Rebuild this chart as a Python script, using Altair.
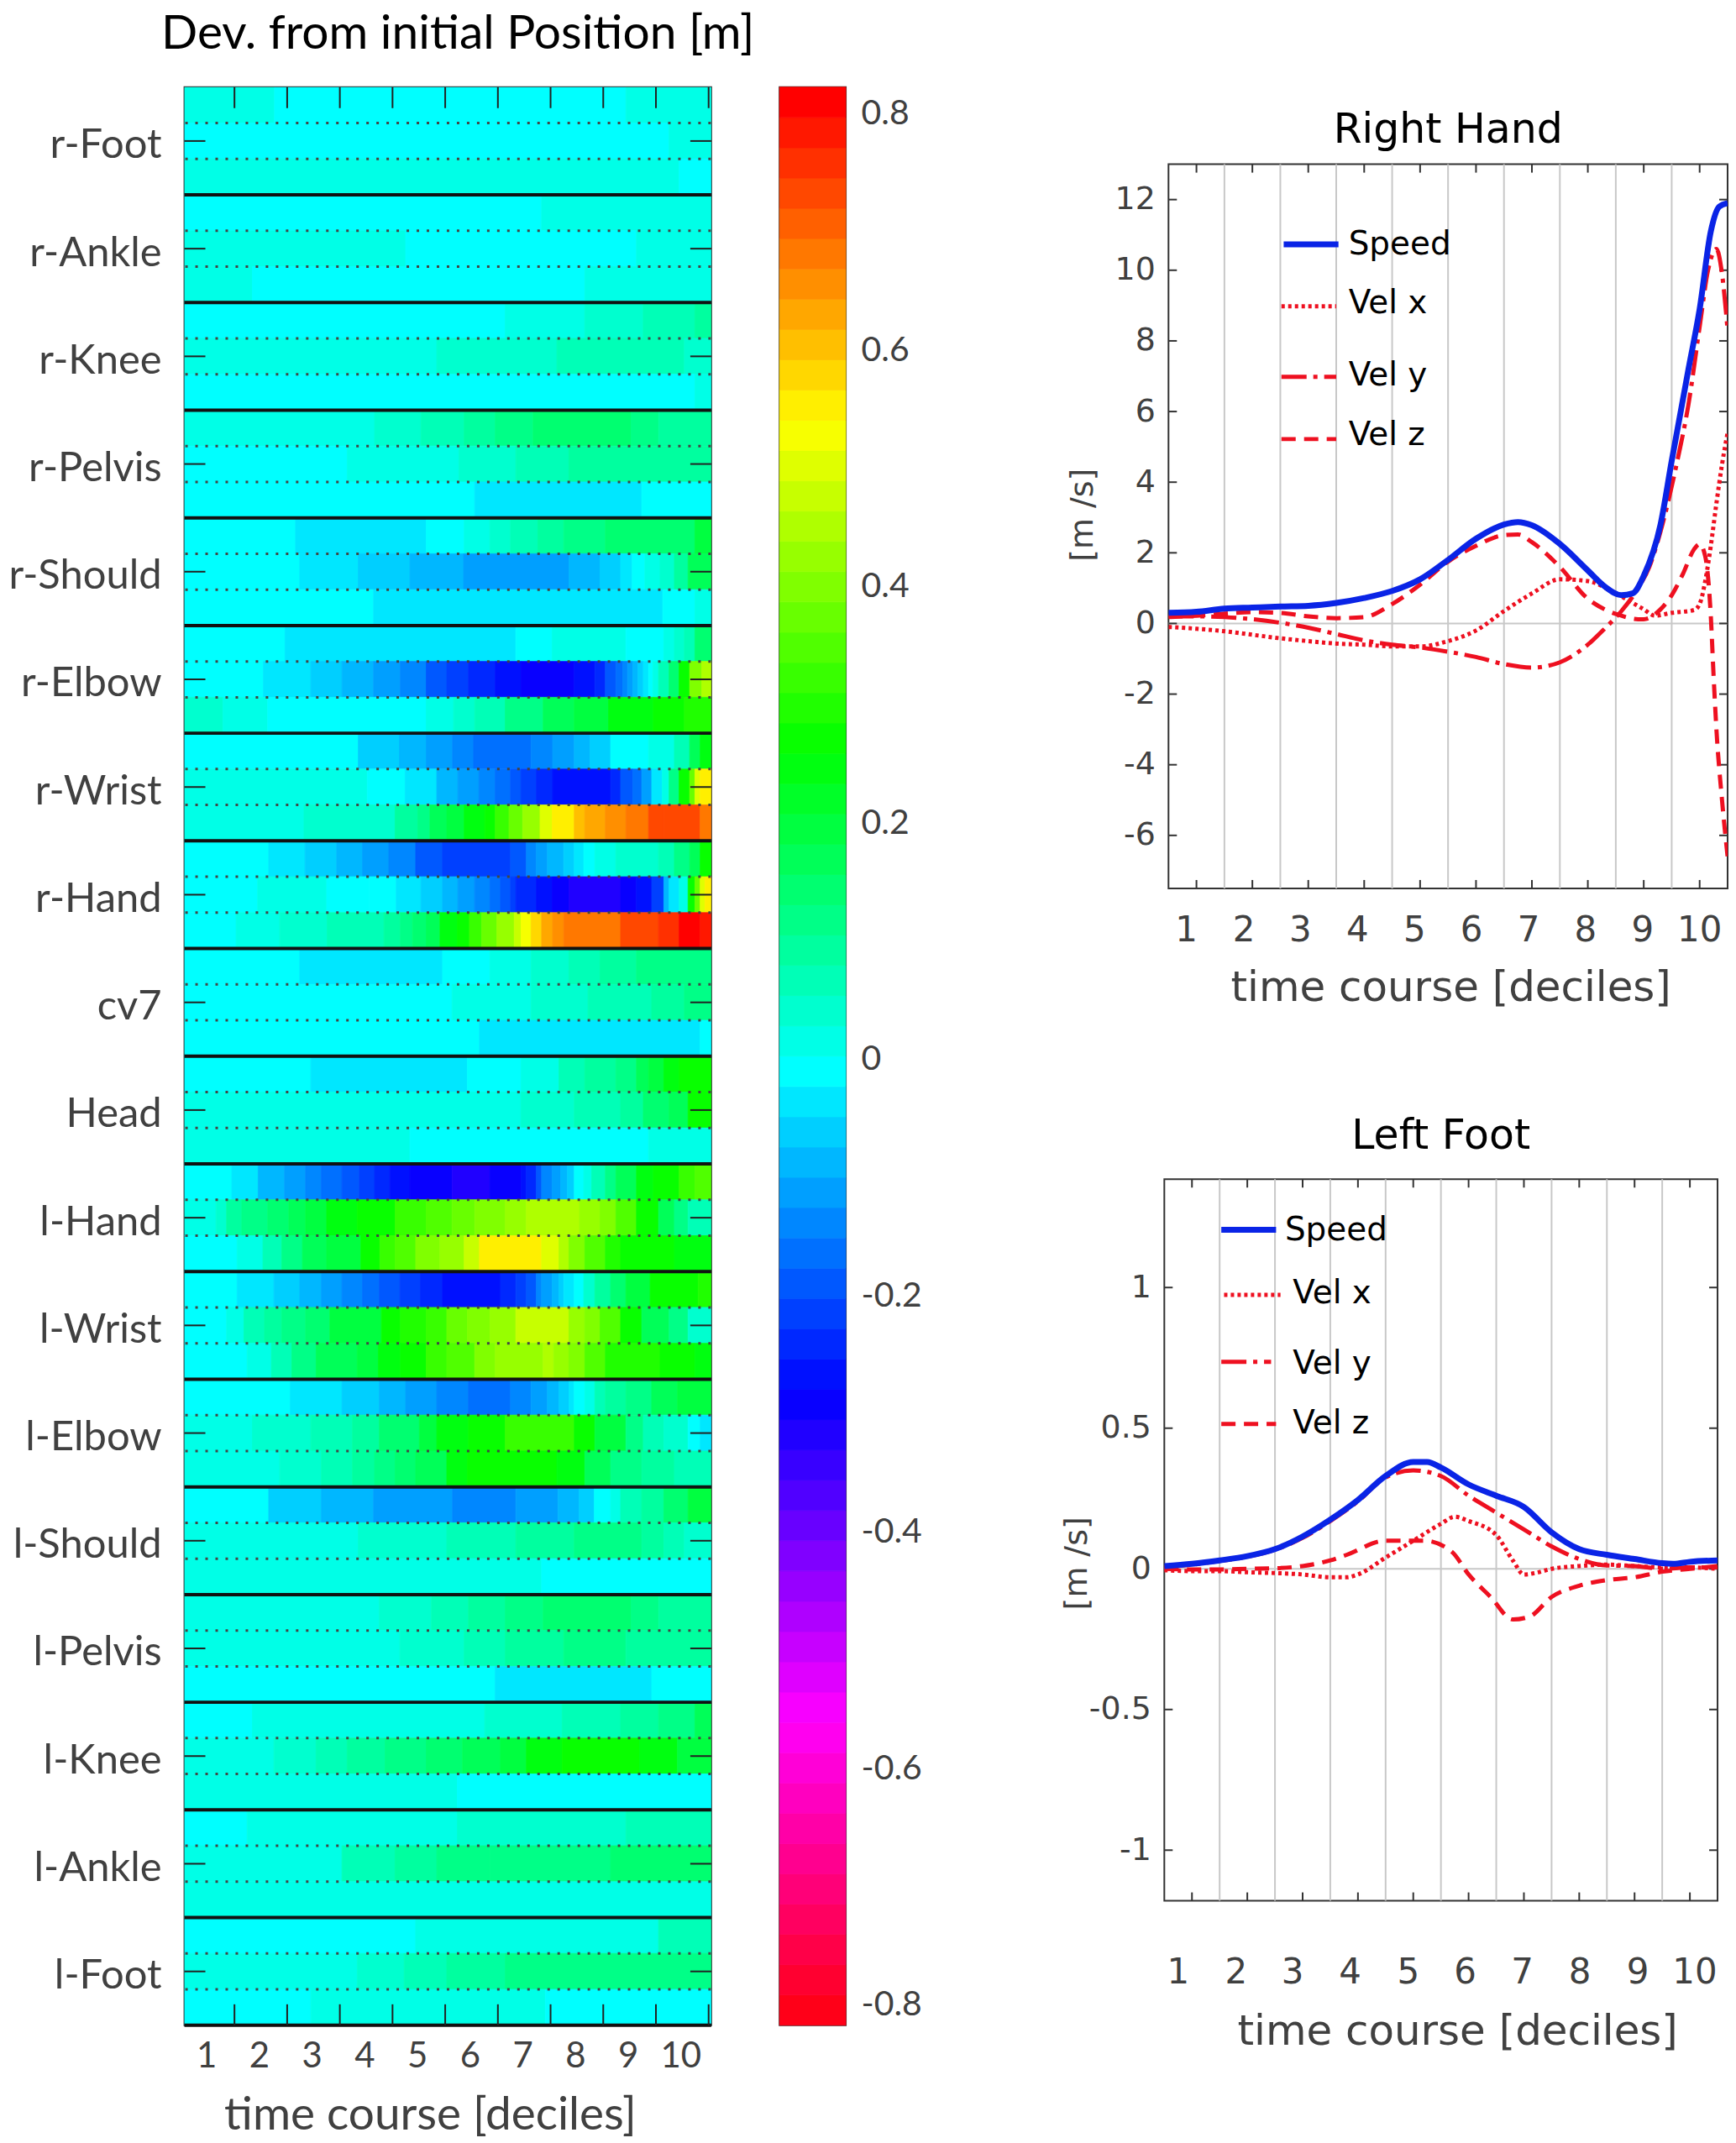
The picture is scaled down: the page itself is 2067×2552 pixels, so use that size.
import colorsys
import altair as alt
import pandas as pd

# ---------- heat map: each marker has 3 sub-rows, each a list of (segment end in deciles, deviation in m)
r_foot = [[(1.76,.04),(8.43,-.01),(10.05,.04)],
          [(9.25,-.01),(10.05,.04)],
          [(9.44,.04),(10.05,-.01)]]
r_ankle = [[(6.83,-.01),(10.05,.04)],
           [(4.25,.04),(8.63,-.01),(10.05,.04)],
           [(1.34,.04),(7.65,-.01),(10.05,.04)]]
r_knee = [[(6.14,-.01),(7.65,.04),(8.76,.065),(9.74,.09),(10.05,.12)],
          [(4.84,.04),(7.12,.065),(9.54,.1),(10.05,.065)],
          [(9.74,-.01),(10.05,.04)]]
r_pelvis = [[(3.66,.04),(4.54,.065),(5.36,.09),(5.95,.115),(6.67,.14),(8.53,.165),(9.05,.14),(10.05,.115)],
            [(3.14,-.01),(5.26,.04),(6.34,.065),(7.35,.09),(10.05,.115)],
            [(5.56,-.01),(8.73,-.04),(10.05,-.01)]]
r_should = [[(2.16,-.01),(4.64,-.04),(5.36,-.01),(5.85,.04),(6.24,.065),(6.76,.09),(7.25,.115),(8.04,.14),(9.74,.165),(10.05,.22)],
            [(2.24,-.01),(3.35,-.04),(4.33,-.065),(5.35,-.09),(7.35,-.115),(7.94,-.09),(8.33,-.065),(8.55,-.04),(8.79,-.01),(9.08,.04),(9.35,.065),(9.61,.115),(10.05,.2)],
            [(3.64,-.01),(9.13,-.04),(9.74,-.01),(10.05,.04)]]
r_elbow = [[(1.96,-.01),(6.34,-.04),(7.03,-.01),(8.43,.04),(9.15,-.01),(9.35,.04),(9.54,.065),(9.74,.1),(10.05,.16)],
           [(1.55,-.01),(2.45,-.04),(3.04,-.065),(3.64,-.09),(4.15,-.115),(4.64,-.14),(5.03,-.19),(5.44,-.22),(5.95,-.245),(6.44,-.27),(7.45,-.295),(7.84,-.27),(8.04,-.245),(8.24,-.19),(8.37,-.165),(8.46,-.14),(8.56,-.115),(8.66,-.09),(8.76,-.065),(8.86,-.04),(8.94,-.01),(9.05,.04),(9.25,.09),(9.44,.165),(9.64,.27),(9.87,.4),(10.05,.45)],
           [(.78,.065),(1.63,.04),(4.64,-.01),(5.16,.04),(5.56,.065),(6.14,.09),(6.86,.14),(7.45,.19),(8.1,.22),(8.95,.245),(9.54,.27),(10.05,.3)]]
r_wrist = [[(3.35,-.01),(4.13,-.065),(4.64,-.09),(5.14,-.115),(5.54,-.14),(6.63,-.165),(7.04,-.14),(7.45,-.115),(7.75,-.09),(8.14,-.065),(8.86,-.01),(9.35,.04),(9.64,.09),(9.84,.2),(10.05,.25)],
           [(3.52,.04),(4.24,-.01),(4.84,-.04),(5.24,-.09),(5.64,-.115),(5.95,-.14),(6.24,-.165),(6.44,-.19),(6.73,-.22),(7.04,-.245),(8.14,-.27),(8.33,-.245),(8.56,-.19),(8.73,-.165),(8.92,-.115),(9.12,-.04),(9.25,.04),(9.44,.14),(9.64,.27),(9.74,.38),(9.84,.5),(10.05,.55)],
           [(2.32,.04),(4.05,.065),(4.48,.115),(4.71,.14),(5.03,.19),(5.36,.22),(5.75,.25),(5.95,.28),(6.21,.33),(6.47,.38),(6.8,.43),(7.03,.49),(7.45,.55),(7.65,.6),(8.04,.63),(8.43,.66),(8.86,.69),(9.15,.72),(9.84,.74),(10.05,.69)]]
r_hand = [[(1.65,-.01),(2.34,-.04),(2.94,-.065),(3.43,-.09),(3.93,-.115),(4.44,-.14),(4.95,-.19),(6.24,-.22),(6.54,-.19),(6.73,-.14),(6.94,-.115),(7.25,-.09),(7.45,-.065),(7.63,-.04),(7.84,-.01),(8.24,.04),(9.05,.065),(9.35,.09),(9.64,.14),(9.84,.2),(10.05,.27)],
          [(1.44,-.01),(2.75,.04),(3.56,-.01),(4.07,-.01),(4.54,-.04),(4.95,-.065),(5.24,-.09),(5.56,-.115),(5.85,-.14),(6.05,-.165),(6.24,-.19),(6.34,-.22),(6.73,-.245),(7.03,-.27),(7.35,-.295),(8.33,-.32),(8.63,-.295),(8.92,-.27),(9.15,-.22),(9.25,-.09),(9.44,-.04),(9.61,.04),(9.74,.27),(9.84,.38),(9.93,.5),(10.05,.55)],
          [(1.03,-.01),(1.86,.04),(2.76,.065),(3.84,.09),(4.15,.115),(4.38,.14),(4.64,.17),(4.9,.2),(5.23,.245),(5.46,.27),(5.69,.31),(5.98,.36),(6.31,.42),(6.44,.47),(6.63,.52),(6.83,.58),(7.04,.63),(7.25,.66),(8.33,.69),(9.05,.72),(9.44,.76),(9.84,.82),(10.05,.78)]]
cv7 = [[(2.24,-.01),(4.95,-.04),(5.85,-.01),(6.63,.04),(7.35,.065),(7.94,.09),(8.63,.115),(10.05,.14)],
       [(5.13,-.01),(6.63,.04),(7.71,.065),(8.92,.09),(9.54,.115),(10.05,.14)],
       [(5.65,-.01),(9.84,-.04),(10.05,-.01)]]
head = [[(2.45,-.01),(5.42,-.04),(6.44,-.01),(7.16,.04),(7.65,.09),(8.24,.115),(8.63,.14),(8.86,.19),(9.15,.22),(9.44,.25),(10.05,.28)],
        [(6.44,.04),(7.45,.065),(8.33,.09),(8.76,.115),(9.25,.165),(9.61,.2),(10.05,.27)],
        [(4.33,.04),(8.86,-.01),(10.05,.04)]]
l_hand = [[(.95,-.01),(1.45,-.04),(1.95,-.09),(2.35,-.115),(2.65,-.14),(3.04,-.165),(3.37,-.19),(3.66,-.22),(3.95,-.245),(4.33,-.27),(5.13,-.295),(5.85,-.33),(6.44,-.295),(6.54,-.27),(6.73,-.245),(6.83,-.19),(7.03,-.14),(7.19,-.115),(7.32,-.09),(7.45,-.065),(7.63,-.01),(7.78,.04),(8.04,.09),(8.24,.14),(8.63,.19),(8.95,.245),(9.44,.27),(9.74,.31),(10.05,.34)],
          [(.65,.04),(.85,.065),(1.14,.115),(1.63,.14),(2.03,.17),(2.35,.19),(2.75,.22),(3.33,.245),(4.05,.27),(4.64,.31),(5.13,.335),(5.56,.36),(6.14,.385),(6.54,.42),(7.55,.45),(7.94,.42),(8.24,.385),(8.63,.335),(9.05,.27),(9.35,.19),(9.61,.14),(10.05,.09)],
          [(1.05,-.01),(1.54,.04),(1.9,.09),(2.29,.14),(2.75,.19),(3.4,.22),(3.76,.27),(4.05,.31),(4.44,.335),(4.9,.385),(5.36,.42),(5.65,.47),(6.83,.545),(7.16,.5),(7.35,.45),(7.65,.385),(8.04,.335),(8.33,.3),(9.35,.27),(10.05,.245)]]
l_wrist = [[(1.05,-.01),(1.75,-.04),(2.24,-.065),(2.65,-.09),(3.04,-.115),(3.43,-.14),(3.75,-.165),(4.14,-.19),(4.53,-.22),(4.95,-.245),(6.05,-.27),(6.34,-.245),(6.54,-.22),(6.73,-.19),(6.83,-.14),(7.03,-.115),(7.16,-.09),(7.25,-.065),(7.45,-.04),(7.63,-.01),(7.84,.065),(8.14,.115),(8.43,.165),(8.89,.22),(9.8,.27),(10.05,.3)],
           [(.85,-.01),(1.18,.04),(1.57,.09),(1.9,.115),(2.35,.14),(2.81,.17),(3.79,.22),(4.15,.27),(4.64,.3),(5.03,.33),(5.42,.36),(5.85,.385),(6.34,.42),(7.35,.47),(7.65,.42),(7.94,.385),(8.33,.335),(8.73,.27),(9.25,.19),(9.61,.14),(10.05,.07)],
           [(1.24,-.01),(1.7,.04),(2.09,.09),(2.55,.14),(3.33,.19),(3.73,.22),(4.15,.245),(4.64,.27),(5.03,.31),(5.56,.335),(5.95,.385),(6.86,.42),(7.06,.45),(7.35,.42),(7.65,.385),(8.04,.335),(9.08,.3),(9.74,.27),(10.05,.245)]]
l_elbow = [[(2.06,-.01),(3.04,-.04),(3.75,-.065),(4.25,-.09),(4.84,-.115),(5.44,-.14),(6.24,-.165),(6.63,-.14),(6.94,-.115),(7.16,-.09),(7.35,-.065),(7.45,-.04),(7.65,-.01),(7.84,.04),(8.04,.09),(8.43,.115),(8.92,.14),(9.41,.19),(10.05,.22)],
           [(1.34,.04),(2.45,.065),(3.24,.09),(3.75,.115),(4.51,.165),(4.84,.22),(5.44,.245),(6.14,.27),(7.45,.31),(7.84,.27),(8.43,.22),(8.76,.14),(9.15,.09),(9.61,.065),(9.84,-.01),(10.05,-.05)],
           [(1.86,.04),(2.65,.065),(3.24,.09),(3.66,.115),(4.05,.14),(4.44,.17),(5.03,.19),(5.42,.245),(7.12,.27),(7.65,.245),(8.14,.19),(8.73,.14),(9.35,.115),(10.05,.09)]]
l_should = [[(1.65,-.01),(2.65,-.065),(3.64,-.09),(5.14,-.115),(6.34,-.14),(7.14,-.115),(7.54,-.09),(7.83,-.065),(8.14,-.01),(8.33,.04),(8.73,.09),(9.15,.115),(9.61,.165),(10.05,.22)],
            [(3.35,.04),(5.03,.065),(6.34,.09),(7.45,.115),(8.73,.14),(9.15,.115),(9.54,.09),(10.05,.065)],
            [(6.83,.04),(10.05,-.01)]]
l_pelvis = [[(3.75,.04),(4.74,.065),(5.44,.09),(6.14,.115),(6.86,.14),(8.53,.165),(9.05,.14),(10.05,.115)],
            [(4.14,.04),(5.36,.065),(6.14,.09),(7.25,.115),(8.43,.14),(10.05,.115)],
            [(5.95,-.01),(8.92,-.04),(10.05,-.01)]]
l_knee = [[(1.34,-.01),(5.75,.04),(7.22,.065),(8.33,.09),(9.05,.115),(9.74,.14),(10.05,.19)],
          [(1.75,.04),(2.55,.065),(3.14,.09),(3.86,.115),(4.64,.14),(5.33,.165),(6.05,.19),(6.54,.22),(7.22,.245),(8.69,.27),(9.41,.245),(10.05,.22)],
          [(5.23,.04),(10.05,-.01)]]
l_ankle = [[(1.24,-.01),(5.23,.04),(8.43,.065),(10.05,.09)],
           [(3.04,.04),(4.05,.09),(4.84,.115),(5.85,.13),(8.14,.14),(10.05,.165)],
           [(10.05,.035)]]
l_foot = [[(4.44,-.01),(9.05,.04),(10.05,.09)],
          [(3.33,.04),(4.22,.065),(5.03,.09),(6.14,.115),(10.05,.14)],
          [(2.45,-.01),(6.9,.04),(10.05,-.01)]]

marker_names = ["r-Foot","r-Ankle","r-Knee","r-Pelvis","r-Should","r-Elbow","r-Wrist","r-Hand","cv7",
                "Head","l-Hand","l-Wrist","l-Elbow","l-Should","l-Pelvis","l-Knee","l-Ankle","l-Foot"]
marker_rows = [r_foot,r_ankle,r_knee,r_pelvis,r_should,r_elbow,r_wrist,r_hand,cv7,
               head,l_hand,l_wrist,l_elbow,l_should,l_pelvis,l_knee,l_ankle,l_foot]
deciles = [1,2,3,4,5,6,7,8,9,10]
cbar_ticks = [0.8,0.6,0.4,0.2,0,-0.2,-0.4,-0.6,-0.8]

# ---------- right panels: (decile, m/s)
rh_speed = [(.5,.3),(1,.33),(1.5,.42),(2,.45),(2.5,.48),(3,.5),(3.5,.58),(4,.72),(4.5,.92),(5,1.25),(5.5,1.8),(6,2.4),(6.5,2.8),(6.75,2.87),(7,2.78),(7.5,2.25),(8,1.5),(8.3,1.05),(8.6,.8),(8.8,.85),(9,1.35),(9.3,2.8),(9.5,4.6),(9.8,7.2),(10,8.9),(10.2,11.1),(10.35,11.8),(10.5,11.9)]
rh_x = [(.5,-.1),(1,-.15),(1.5,-.22),(2,-.32),(2.5,-.42),(3,-.5),(3.5,-.57),(4,-.6),(4.5,-.65),(5,-.65),(5.5,-.5),(6,-.2),(6.5,.35),(7,.85),(7.5,1.25),(8,1.2),(8.5,.85),(9,.4),(9.2,.22),(9.5,.3),(9.9,.38),(10,.55),(10.1,1.2),(10.2,2.2),(10.3,3.4),(10.4,4.5),(10.5,5.4)]
rh_y = [(.5,.2),(1,.2),(1.5,.18),(2,.12),(2.5,.02),(3,-.12),(3.5,-.3),(4,-.48),(4.5,-.6),(5,-.68),(5.5,-.8),(6,-.95),(6.5,-1.15),(7,-1.25),(7.5,-1.1),(8,-.6),(8.3,-.15),(8.6,.35),(8.9,1.0),(9.1,1.6),(9.3,2.6),(9.6,4.6),(9.8,6.2),(10,8.4),(10.15,10),(10.3,10.6),(10.4,9.9),(10.5,8.3)]
rh_z = [(.5,.18),(1,.22),(1.5,.28),(2,.32),(2.5,.3),(3,.2),(3.5,.15),(4,.18),(4.5,.55),(5,1.1),(5.5,1.75),(6,2.2),(6.5,2.5),(6.75,2.52),(7,2.3),(7.5,1.6),(8,.7),(8.3,.4),(8.6,.22),(8.9,.12),(9,.12),(9.3,.4),(9.5,.8),(9.7,1.4),(9.9,2.1),(10,2.25),(10.1,1.9),(10.2,.2),(10.25,-1.5),(10.3,-3),(10.4,-5),(10.5,-6.6)]
lf_speed = [(.5,.01),(1,.018),(1.5,.03),(2,.045),(2.5,.07),(3,.115),(3.5,.175),(4,.245),(4.5,.33),(5,.38),(5.25,.38),(5.5,.36),(6,.3),(6.5,.26),(7,.22),(7.5,.13),(8,.07),(8.5,.05),(9,.035),(9.5,.02),(9.7,.018),(10,.025),(10.5,.03)]
lf_x = [(.5,-.005),(1,-.008),(1.5,-.008),(2,-.012),(2.5,-.015),(3,-.02),(3.5,-.03),(3.8,-.03),(4,-.02),(4.5,.04),(5,.1),(5.5,.16),(5.75,.185),(6,.17),(6.5,.12),(6.8,.03),(7,-.02),(7.2,-.015),(7.5,0),(8,.01),(8.5,.015),(9,.01),(9.5,.005),(10,.005),(10.5,0)]
lf_y = [(.5,.005),(1,.015),(1.5,.028),(2,.043),(2.5,.068),(3,.11),(3.5,.17),(4,.24),(4.5,.325),(5,.35),(5.5,.33),(6,.26),(6.5,.2),(7,.14),(7.5,.08),(8,.035),(8.5,.012),(9,.01),(9.5,0),(10,.005),(10.5,.005)]
lf_z = [(.5,0),(1,-.002),(1.5,-.002),(2,0),(2.5,.002),(3,.01),(3.5,.03),(3.8,.05),(4.5,.1),(5.2,.1),(5.7,.06),(6,-.02),(6.4,-.1),(6.8,-.18),(7.1,-.17),(7.5,-.1),(8,-.06),(8.5,-.04),(9,-.03),(9.5,-.01),(10,0),(10.5,.01)]

series_names = ["Speed","Vel x","Vel y","Vel z"]
half_steps = [1.5,2.5,3.5,4.5,5.5,6.5,7.5,8.5,9.5]
rh_yticks = [-6,-4,-2,0,2,4,6,8,10,12]
lf_yticks = [-1,-0.5,0,0.5,1]
rh_label_t = [.82,1.85,2.86,3.88,4.9,5.92,6.94,7.96,8.98,10.0]
lf_label_t = [.75,1.8,2.82,3.86,4.91,5.94,6.97,8.01,9.06,10.09]
# legend anchor readings: rule start, rule end, rule y, text x, text y
rh_legend = [(2.56,3.54,10.73,3.72,10.73),(2.52,3.5,8.98,3.72,9.07),(2.52,3.5,6.98,3.72,7.03),(2.52,3.5,5.22,3.72,5.34)]
lf_legend = [(1.53,2.52,1.205,2.68,1.205),(1.58,2.6,.974,2.82,.98),(1.53,2.43,.736,2.82,.73),(1.53,2.52,.515,2.82,.517)]

# ---------- styles
BLUE, RED = "#0A24E6", "#EE1020"
TXT, GRID, FRAME = "#404040", "#C8C8C8", "#333333"
F_L, F_R = "Lato", "DejaVu Sans"
palette = []
for i in range(64):
    r, g, b = colorsys.hsv_to_rgb((63 - i) / 64, 1, 1)
    palette.append("#%02x%02x%02x" % (round(r*255), round(g*255), round(b*255)))
V_SCALE = alt.Scale(type="quantize", domain=[-.82, .82], range=palette)

HW, HH = 628.5, 2312.5
hx = alt.Scale(domain=[.05, 10.05], nice=False, zero=False)
hy = alt.Scale(domain=[0, 18], reverse=True, nice=False, zero=False)

def calibrated(v):
    # my readings of the pale greens sit one colour step high
    return v - .025 if 0 < v < .23 else v

cells = []
for r, sub3 in enumerate(marker_rows):
    for s, segs in enumerate(sub3):
        start = .05
        for end, v in segs:
            cells.append(dict(x=start, x2=end, y=r + s/3, y2=r + (s+1)/3, v=calibrated(v)))
            start = end
cells = pd.DataFrame(cells)
n = len(marker_names)

hx_ax = alt.Axis(
    values=deciles, labelExpr="''+datum.value", labelOffset=-33.5, labelPadding=37, labelBaseline="middle",
    ticks=False, domain=False, grid=False, labelFont=F_L, labelFontSize=42, labelColor=TXT,
    title="time course [deciles]", titleFont=F_L, titleFontSize=55, titleFontWeight="normal", titleColor=TXT,
    titleX=293, titleY=107, titleBaseline="middle", titleAlign="center")
hy_ax = alt.Axis(
    values=[i + .5 for i in range(n)], labelExpr="%s[floor(datum.value)]" % str(marker_names),
    labelOffset=5, labelPadding=27.5, labelLimit=400, ticks=False, domain=False, grid=False, labelFont=F_L,
    labelFontSize=49, labelColor=TXT, title=None)

heat_rect = alt.Chart(cells).mark_rect(strokeWidth=.8, clip=True).encode(
    x=alt.X("x:Q", scale=hx, axis=hx_ax),
    x2="x2:Q",
    y=alt.Y("y:Q", scale=hy, axis=hy_ax),
    y2="y2:Q",
    color=alt.Color("v:Q", scale=V_SCALE, legend=None),
    stroke=alt.Color("v:Q", scale=V_SCALE, legend=None),
)
dots = alt.Chart(pd.DataFrame({"y": [r + k/3 for r in range(n) for k in (1, 2)]})).mark_rule(
    color="#444444", strokeWidth=3, strokeDash=[3, 9], strokeDashOffset=-1).encode(
    y=alt.Y("y:Q", scale=hy, axis=hy_ax), x=alt.value(0), x2=alt.value(HW))
seps = alt.Chart(pd.DataFrame({"y": list(range(1, n + 1))})).mark_rule(color="#111111", strokeWidth=4).encode(
    y=alt.Y("y:Q", scale=hy, axis=hy_ax), x=alt.value(0), x2=alt.value(HW))
dec_df = pd.DataFrame({"t": deciles})
top_t = alt.Chart(dec_df).mark_rule(color="#222222", strokeWidth=2).encode(
    x=alt.X("t:Q", scale=hx, axis=hx_ax), y=alt.value(0), y2=alt.value(25))
bot_t = alt.Chart(dec_df).mark_rule(color="#222222", strokeWidth=2).encode(
    x=alt.X("t:Q", scale=hx, axis=hx_ax), y=alt.value(HH - 25), y2=alt.value(HH))
row_df = pd.DataFrame({"y": [i + .5 for i in range(n)]})
lef_t = alt.Chart(row_df).mark_rule(color="#222222", strokeWidth=2).encode(
    y=alt.Y("y:Q", scale=hy, axis=hy_ax), x=alt.value(0), x2=alt.value(25))
rig_t = alt.Chart(row_df).mark_rule(color="#222222", strokeWidth=2).encode(
    y=alt.Y("y:Q", scale=hy, axis=hy_ax), x=alt.value(HW - 25), x2=alt.value(HW))

heat = alt.layer(heat_rect, dots, seps, top_t, bot_t, lef_t, rig_t).resolve_scale(color="shared").properties(
    width=HW, height=HH,
    title=alt.TitleParams("Dev. from initial Position [m]", font=F_L, fontSize=57, fontWeight="normal",
                          color="black", anchor="middle", dx=12, offset=33))

# ---------- colour bar
bins = pd.DataFrame({"i": list(range(64))})
bins["lo"] = -.82 + bins["i"] * 1.64 / 64
bins["hi"] = bins["lo"] + 1.64 / 64
bins["v"] = (bins["lo"] + bins["hi"]) / 2
cy = alt.Scale(domain=[-.82, .82], nice=False, zero=False)
cbar = alt.Chart(bins).mark_rect(strokeWidth=.8).encode(
    x=alt.value(0), x2=alt.value(79),
    y=alt.Y("lo:Q", scale=cy, axis=alt.Axis(
        orient="right", values=cbar_ticks, labelExpr="''+datum.value", ticks=False, domain=False, grid=False,
        labelPadding=18, labelOffset=4, labelFont=F_L, labelFontSize=41, labelColor=TXT, title=None)),
    y2="hi:Q",
    color=alt.Color("v:Q", scale=V_SCALE, legend=None),
    stroke=alt.Color("v:Q", scale=V_SCALE, legend=None),
).properties(width=79, height=HH)

# ---------- line panels
def panel(series, legend, title, w, h, ylim, yticks, label_t, label_dy, xt, yt, title_off):
    xs = alt.Scale(domain=[.5, 10.5], nice=False, zero=False)
    ys = alt.Scale(domain=ylim, nice=False, zero=False)
    xax = alt.Axis(
        labels=False, ticks=False, domain=False, grid=False, values=deciles,
        title="time course [deciles]", titleFont=F_R, titleFontSize=50, titleFontWeight="normal", titleColor=TXT,
        titleX=xt[0], titleY=xt[1], titleBaseline="middle", titleAlign="center")
    yax = alt.Axis(
        values=yticks, labelExpr="''+datum.value", ticks=False, domain=False, grid=False, labelPadding=16,
        labelFont=F_R, labelFontSize=38, labelColor=TXT,
        title="[m /s]", titleFont=F_R, titleFontSize=38, titleFontWeight="normal", titleColor=TXT,
        titleX=yt[0], titleY=yt[1], titleBaseline="middle", titleAlign="center")
    grid = alt.Chart(pd.DataFrame({"g": half_steps})).mark_rule(color=GRID, strokeWidth=2).encode(
        x=alt.X("g:Q", scale=xs, axis=xax))
    zero = alt.Chart(pd.DataFrame({"z": [0]})).mark_rule(color=GRID, strokeWidth=2).encode(
        y=alt.Y("z:Q", scale=ys, axis=yax))
    layers = [grid, zero]
    y_df, x_df = pd.DataFrame({"v": yticks}), pd.DataFrame({"t": deciles})
    for enc in (dict(x=alt.value(0), x2=alt.value(10)), dict(x=alt.value(w - 10), x2=alt.value(w))):
        layers.append(alt.Chart(y_df).mark_rule(color=FRAME, strokeWidth=2).encode(
            y=alt.Y("v:Q", scale=ys, axis=yax), **enc))
    for enc in (dict(y=alt.value(0), y2=alt.value(10)), dict(y=alt.value(h - 10), y2=alt.value(h))):
        layers.append(alt.Chart(x_df).mark_rule(color=FRAME, strokeWidth=2).encode(
            x=alt.X("t:Q", scale=xs, axis=xax), **enc))
    styles = [dict(color=BLUE, strokeWidth=7),
              dict(color=RED, strokeWidth=5, strokeDash=[4, 4]),
              dict(color=RED, strokeWidth=5, strokeDash=[30, 8, 5, 8]),
              dict(color=RED, strokeWidth=5, strokeDash=[17, 10])]
    for pts, st in zip(series[::-1], styles[::-1]):
        df = pd.DataFrame(pts, columns=["t", "v"])
        layers.append(alt.Chart(df).mark_line(interpolate="monotone", clip=True, **st).encode(
            x=alt.X("t:Q", scale=xs, axis=xax), y=alt.Y("v:Q", scale=ys, axis=yax)))
    for name, leg, st in zip(series_names, legend, styles):
        d = pd.DataFrame([dict(x=leg[0], x2=leg[1], y=leg[2], tx=leg[3], ty=leg[4], name=name)])
        layers.append(alt.Chart(d).mark_rule(**st).encode(
            x=alt.X("x:Q", scale=xs, axis=xax), x2="x2:Q", y=alt.Y("y:Q", scale=ys, axis=yax)))
        layers.append(alt.Chart(d).mark_text(font=F_R, fontSize=39, color="black", align="left", baseline="middle").encode(
            x=alt.X("tx:Q", scale=xs, axis=xax), y=alt.Y("ty:Q", scale=ys, axis=yax), text="name:N"))
    lab = pd.DataFrame({"t": label_t, "s": [str(d) for d in deciles]})
    layers.append(alt.Chart(lab).mark_text(font=F_R, fontSize=42, color=TXT, align="center", baseline="middle").encode(
        x=alt.X("t:Q", scale=xs, axis=xax), y=alt.value(h + label_dy), text="s:N"))
    return alt.layer(*layers).properties(
        width=w, height=h,
        title=alt.TitleParams(title, font=F_R, fontSize=49, fontWeight="normal", color="black",
                              anchor="middle", offset=title_off))

p1 = panel([rh_speed, rh_x, rh_y, rh_z], rh_legend, "Right Hand", 667, 864, [-7.5, 13], rh_yticks, rh_label_t, 50,
           (336.5, 119), (-102, 418), 15)
p2 = panel([lf_speed, lf_x, lf_y, lf_z], lf_legend, "Left Foot", 660, 861, [-1.18, 1.385], lf_yticks, lf_label_t, 86,
           (349.5, 156), (-104, 458), 25)

def spacer(w, h):
    return alt.Chart(pd.DataFrame({"a": [0]})).mark_point(opacity=0).encode(
        x=alt.value(0), y=alt.value(0)).properties(width=w, height=h, view=alt.ViewConfig(stroke=None))

p1_row = alt.concat(spacer(10, 10), p1, columns=2, spacing=0, align="none")
top_col = alt.concat(spacer(5, 25.5), p1_row, columns=1, spacing=0, align="none")
p2_row = alt.concat(spacer(1, 10), p2, columns=2, spacing=0, align="none")
right = alt.concat(top_col, p2_row, columns=1, spacing=126, align="none")
right_row = alt.concat(spacer(129, 10), right, columns=2, spacing=0, align="none")
chart = alt.hconcat(heat, cbar, right_row, spacing=26).properties(
    padding={"left": 0, "top": 0.5, "right": 0, "bottom": 0}, background="white"
).configure_view(stroke=FRAME, strokeWidth=2)

chart.save("out.html", embed_options={"renderer": "svg", "actions": False})
